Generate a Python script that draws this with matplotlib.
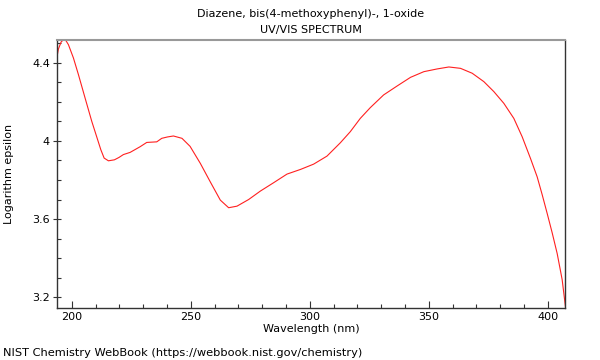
# plot.py: UV/VIS spectrum of Diazene, bis(4-methoxyphenyl)-, 1-oxide
import matplotlib
matplotlib.use('Agg')
import matplotlib.pyplot as plt
from matplotlib.ticker import MultipleLocator, FuncFormatter

# wavelength (nm) and log epsilon
wavelength = [193.8, 194.4, 195.5, 196.5, 197.6, 198.6, 200.7, 202.8, 205.6, 208.4,
              210.5, 212.2, 213.6, 215.4, 217.9, 219.8, 221.7, 224.5, 228.7, 231.5,
              235.7, 237.8, 240.2, 242.7, 246.3, 249.7, 254.0, 258.2, 262.4, 265.9,
              269.4, 274.3, 279.2, 284.8, 290.4, 296.1, 301.6, 307.2, 312.8, 317.0,
              321.2, 325.4, 331.0, 336.7, 342.3, 347.9, 353.5, 358.4, 363.3, 368.2,
              373.1, 377.3, 381.5, 385.7, 389.2, 392.7, 395.5, 397.6, 399.7, 401.8,
              403.9, 406.0, 407.4]
log_eps = [4.43, 4.47, 4.505, 4.518, 4.512, 4.492, 4.424, 4.339, 4.219, 4.10,
           4.02, 3.955, 3.912, 3.898, 3.903, 3.915, 3.93, 3.941, 3.97, 3.992,
           3.995, 4.013, 4.02, 4.025, 4.013, 3.972, 3.885, 3.79, 3.697, 3.658,
           3.666, 3.70, 3.743, 3.786, 3.83, 3.854, 3.881, 3.922, 3.99, 4.047,
           4.115, 4.17, 4.235, 4.281, 4.325, 4.354, 4.368, 4.378, 4.371, 4.346,
           4.303, 4.252, 4.192, 4.115, 4.021, 3.91, 3.816, 3.725, 3.629, 3.53,
           3.424, 3.29, 3.15]

title = 'Diazene, bis(4-methoxyphenyl)-, 1-oxide\nUV/VIS SPECTRUM'
footer = 'NIST Chemistry WebBook (https://webbook.nist.gov/chemistry)'

plt.rc('font', size=8)
fig = plt.figure(figsize=(6, 3.6), dpi=100)
ax = fig.add_axes([0.095, 0.1444, 0.8467, 0.7445])

ax.plot(wavelength, log_eps, color='#ff2020', lw=0.8)

ax.set_xlim(193.8, 407.2)
ax.set_ylim(3.145, 4.516)
ax.xaxis.set_major_locator(MultipleLocator(50))
ax.xaxis.set_minor_locator(MultipleLocator(10))
ax.yaxis.set_major_locator(MultipleLocator(0.4))
ax.yaxis.set_minor_locator(MultipleLocator(0.1))
ax.yaxis.set_major_formatter(FuncFormatter(lambda v, p: '%g' % round(v, 2)))
ax.tick_params(axis='x', which='major', direction='in', length=5, width=0.8,
               color='#333333', pad=3)
ax.tick_params(axis='y', which='major', direction='inout', length=6, width=0.8,
               color='#333333', pad=2)
ax.tick_params(which='minor', direction='in', length=3, width=0.8, color='#333333')
ax.tick_params(top=False, right=False, which='both')

for side in ['left', 'bottom', 'right']:
    ax.spines[side].set_color('#333333')
    ax.spines[side].set_linewidth(1.0)
ax.spines['top'].set_color('#999999')
ax.spines['top'].set_linewidth(1.5)

ax.set_title(title, fontsize=8, linespacing=1.75, pad=5)
ax.set_xlabel('Wavelength (nm)', labelpad=1)
ax.set_ylabel('Logarithm epsilon', labelpad=13)

fig.text(0.005, 0.005, footer, fontsize=8.2, ha='left', va='bottom')

plt.savefig('out.png')
